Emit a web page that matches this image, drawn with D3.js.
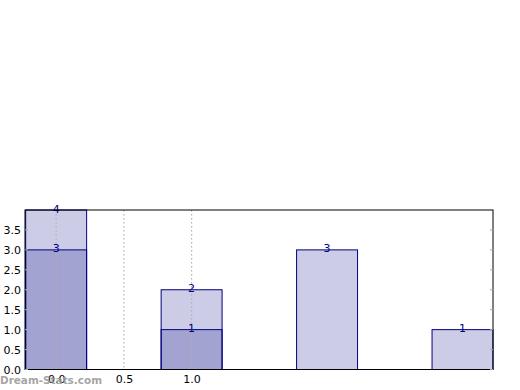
<!DOCTYPE html>
<html><head><meta charset="utf-8">
<script src="https://cdn.jsdelivr.net/npm/d3@7"></script>
<style>body{margin:0;background:#fff}svg{display:block}</style>
</head><body>
<svg id="c" width="520" height="390"></svg>
<script>
const positions = [0, 1, 2, 3];
const seriesA = [4, 2, 3, 1];
const seriesB = [3, 1];
const yTicks = [0, 0.5, 1.0, 1.5, 2.0, 2.5, 3.0, 3.5];
const xTicks = [0.0, 0.5, 1.0];
const barWidth = 0.45;

const svg = d3.select("#c");
const L = 25, R = 493, T = 210, B = 369.5;
const x = d3.scaleLinear().domain([-0.23, 3.225]).range([L, R]);
const y = d3.scaleLinear().domain([0, 4]).range([B, T]);

function bars(vals) {
  const g = svg.append("g");
  vals.forEach((v, i) => {
    const x0 = x(positions[i] - barWidth / 2), x1 = Math.min(x(positions[i] + barWidth / 2), R);
    g.append("rect").attr("x", x0).attr("y", y(v)).attr("width", x1 - x0).attr("height", y(0) - y(v))
      .attr("fill", "navy").attr("fill-opacity", 0.2).attr("stroke", "navy").attr("stroke-width", 1);
  });
}
bars(seriesA);
bars(seriesB);

// grid
const grid = svg.append("g");
xTicks.forEach(t => {
  grid.append("line").attr("x1", x(t)).attr("x2", x(t)).attr("y1", T).attr("y2", B)
    .attr("stroke", "#b0b0b0").attr("stroke-dasharray", "1.5,2.5").attr("stroke-width", 1.2);
});

// labels
function labels(vals) {
  vals.forEach((v, i) => {
    svg.append("text").attr("x", x(positions[i])).attr("y", y(v) + 2.5)
      .attr("text-anchor", "middle").attr("font-family", "DejaVu Sans").attr("font-size", 11)
      .attr("fill", "navy").text(v);
  });
}
labels(seriesA);
labels(seriesB);

// frame
svg.append("rect").attr("x", L).attr("y", T).attr("width", R - L).attr("height", B - T)
  .attr("fill", "none").attr("stroke", "#000").attr("stroke-width", 1);

// y axis
const yAxis = d3.axisLeft(y).tickValues(yTicks).tickFormat(d3.format(".1f")).tickSize(0).tickPadding(4);
const ga = svg.append("g").attr("transform", `translate(${L},0)`).call(yAxis);
ga.select(".domain").remove();
ga.selectAll("text").attr("font-family", "DejaVu Sans").attr("font-size", 11).attr("fill", "#000");
yTicks.forEach(t => {
  svg.append("line").attr("x1", L).attr("x2", L + 3).attr("y1", y(t)).attr("y2", y(t)).attr("stroke", "#aaa");
  svg.append("line").attr("x1", R - 3).attr("x2", R).attr("y1", y(t)).attr("y2", y(t)).attr("stroke", "#aaa");
});

// x axis
const xAxis = d3.axisBottom(x).tickValues(xTicks).tickFormat(d3.format(".1f")).tickSize(0).tickPadding(6);
const gx = svg.append("g").attr("transform", `translate(0,${B})`).call(xAxis);
gx.select(".domain").remove();
gx.selectAll("text").attr("font-family", "DejaVu Sans").attr("font-size", 11).attr("fill", "#000");

// watermark
svg.append("text").attr("x", 0).attr("y", 384).attr("font-family", "DejaVu Sans").attr("font-weight", "bold")
  .attr("font-size", 11).attr("textLength", 102).attr("lengthAdjust", "spacingAndGlyphs")
  .attr("fill", "#999").attr("fill-opacity", 0.9).text("Dream-Stats.com");
</script>
</body></html>
